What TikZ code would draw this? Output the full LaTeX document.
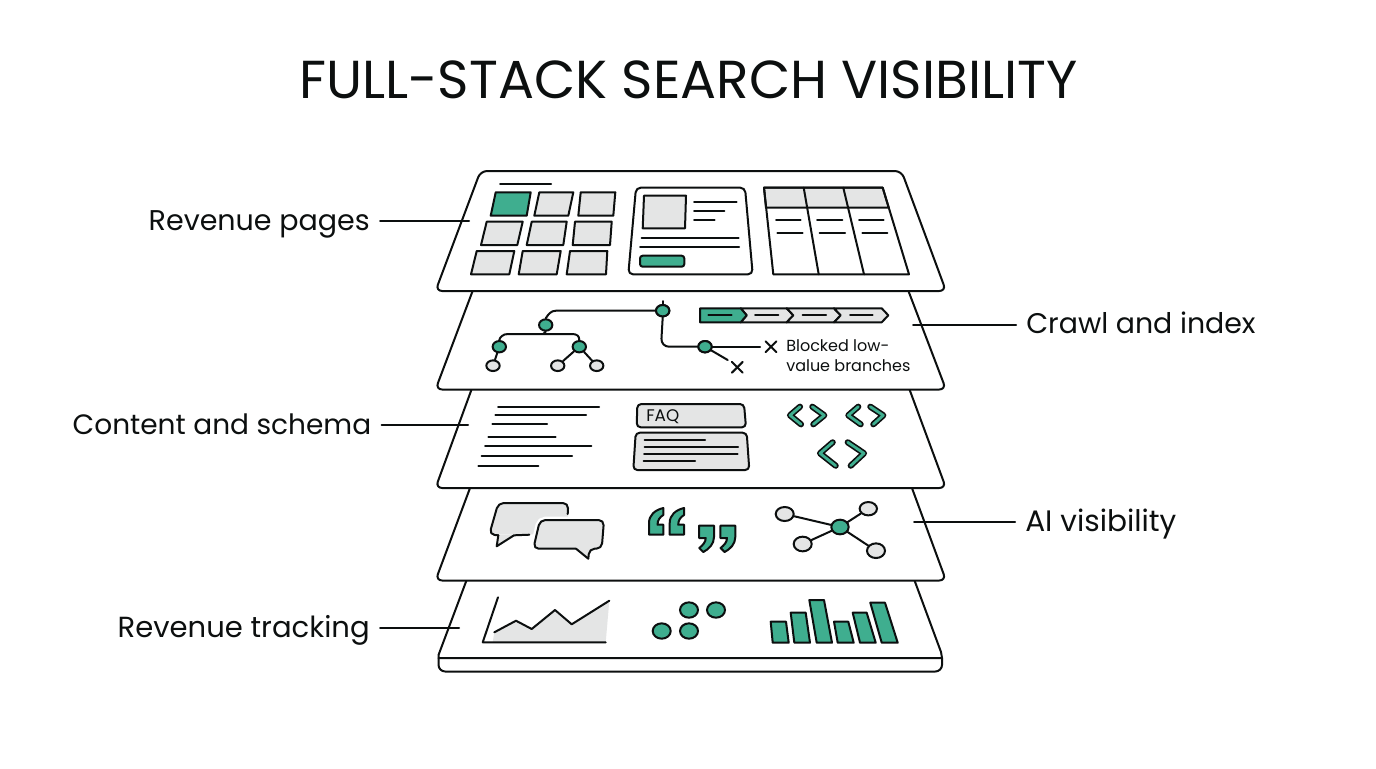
\documentclass[tikz,border=0pt]{standalone}
\usepackage{fontspec}
\setmainfont{Poppins}
\usetikzlibrary{shapes.geometric}
\definecolor{ink}{HTML}{0C0F0F}
\definecolor{teal}{HTML}{3FAE8F}
\definecolor{tile}{HTML}{E4E5E5}
\tikzset{
  ln/.style={draw=ink,line width=1.5pt,line join=round,line cap=round},
  slab/.style={ln,fill=white,rounded corners=5pt},
  gr/.style={ln,fill=tile},
  gn/.style={ln,fill=teal},
  grn/.style={ellipse,draw=ink,line width=1.5pt,fill=teal,inner sep=0pt,minimum width=10pt,minimum height=8.5pt},
  gry/.style={ellipse,draw=ink,line width=1.5pt,fill=tile,inner sep=0pt,minimum width=10pt,minimum height=8pt},
  lbl/.style={text=ink,inner sep=0pt},
  small/.style={font=\fontsize{12}{15}\selectfont,text=ink,inner sep=0pt},
  chevo/.style={draw=ink,line width=4.6pt,line join=round,line cap=round},
  chevi/.style={draw=teal,line width=2.1pt,line join=round,line cap=round},
}
\newcommand{\chevmark}[1]{\draw[chevo] #1; \draw[chevi] #1;}
\begin{document}
\begin{tikzpicture}[x=0.75pt,y=-0.75pt]
\useasboundingbox (0,0) rectangle (1376,768);
\node[inner sep=0pt,anchor=base,text=ink,font=\fontsize{40.1}{48}\selectfont] (title) at (688.5,98) {FULL-STACK SEARCH VISIBILITY};

% ---- slab 5 (base)
\draw[ln,fill=white,rounded corners=5pt] (438.5,658) -- (438.5,671.5) -- (942,671.5) -- (942,658);
\draw[ln,fill=white] (468.5,575) -- (438.5,655) -- (438.5,658) -- (942,658) -- (941,652) -- (912.5,575);
% ---- slab 4
\draw[slab] (473,480) -- (435.5,580.5) -- (946,580.5) -- (909,480);
% ---- slab 3
\draw[slab] (475,380) -- (435.5,488) -- (946,488) -- (906,380);
% ---- slab 2
\draw[slab] (476,282) -- (435.5,389.5) -- (946,389.5) -- (905,282);
% ---- slab 1
\draw[slab] (480.5,171) -- (901.5,171) -- (946,291) -- (435.5,291) -- cycle;

% ---- slab 1 content
\draw[ln] (500,184) -- (551,184);
\draw[gn] (495.7,192.3) -- (530.7,192.3) -- (526.7,215.7) -- (490.7,215.7) -- cycle;
\draw[gr] (539.3,192.3) -- (573.3,192.3) -- (568.3,215.7) -- (534.3,215.7) -- cycle;
\draw[gr] (580.7,192.3) -- (615.3,192.3) -- (613.3,215.7) -- (578.3,215.7) -- cycle;
\draw[gr] (486.7,221.7) -- (522.7,221.7) -- (517.3,245) -- (481,245) -- cycle;
\draw[gr] (531.7,221.7) -- (566.7,221.7) -- (563.3,245) -- (526.7,245) -- cycle;
\draw[gr] (575,221.7) -- (611.7,221.7) -- (610,245) -- (572.7,245) -- cycle;
\draw[gr] (476.7,251) -- (514.3,251) -- (509.3,274.3) -- (471,274.3) -- cycle;
\draw[gr] (522.7,251) -- (560.7,251) -- (556.7,274.3) -- (518.7,274.3) -- cycle;
\draw[gr] (570,251) -- (607.3,251) -- (606,274.3) -- (566.7,274.3) -- cycle;
\draw[ln,rounded corners=3.5pt] (636,187.7) -- (745,187.7) -- (752.7,274.3) -- (628.3,274.3) -- cycle;
\draw[gr] (644,195.7) -- (686,195.7) -- (685,228.3) -- (642.7,228.3) -- cycle;
\draw[ln] (641.7,237.7) -- (738.7,237.7);
\draw[ln] (640,246.7) -- (739,246.7);
\draw[gn,rounded corners=2pt] (640,255.7) rectangle (684.3,266.7);
\draw[ln] (694,202.3) -- (736.7,202.3);
\draw[ln] (694,211) -- (724.3,211);
\draw[ln] (694,219.7) -- (714.7,219.7);
\draw[gr] (764,187.7) -- (882.7,187.7) -- (888.7,207.7) -- (766,207.7) -- cycle;
\draw[ln] (764,187.7) -- (882.7,187.7) -- (909,274.3) -- (773.3,274.3) -- cycle;
\draw[ln] (803.7,187.7) -- (818.7,274.3);
\draw[ln] (843.3,187.7) -- (864,274.3);
\draw[ln] (776,220) -- (800.7,220);
\draw[ln] (817,220) -- (842.3,220);
\draw[ln] (859,220) -- (883.7,220);
\draw[ln] (777.3,232.7) -- (802.7,232.7);
\draw[ln] (819.7,232.7) -- (845,232.7);
\draw[ln] (862.3,232.7) -- (887.3,232.7);

% ---- slab 2 content: tree
\node[grn] (n1) at (662.7,310.7) {};
\node[grn] (n2) at (545.7,325) {};
\node[grn] (n3) at (499.3,346.7) {};
\node[grn] (n4) at (579.3,346.7) {};
\node[grn] (n5) at (705,346.7) {};
\node[gry] (l1) at (493,365.7) {};
\node[gry] (l2) at (557.7,365.7) {};
\node[gry] (l3) at (596.7,365.7) {};
\coordinate (stub) at (662.7,301);
\coordinate (j) at (543.3,334);
\coordinate (x1) at (771,346.7);
\coordinate (x2) at (737.3,367.3);
\draw[ln] (n1) -- (stub);
\draw[ln] (n1.west) -- (556,310.7) .. controls (551,310.7) and (548.5,314) .. (n2.north);
\draw[ln] (n2.south) -- (j);
\draw[ln] (j) -- (508,334) .. controls (503,334) and (500,337) .. (n3.north);
\draw[ln] (j) -- (572,334) .. controls (577,334) and (579.3,336) .. (n4.north);
\draw[ln] (n3) -- (l1);
\draw[ln] (n4) -- (l2);
\draw[ln] (n4) -- (l3);
\draw[ln,rounded corners=6pt] (n1.south) -- (661,346.7) -- (n5.west);
\draw[ln] (n5.east) -- (760,346.7);
\draw[ln] (n5) -- (727.7,360);
\foreach \c in {x1,x2}{
  \draw[ln] ([shift={(-4.1pt,-4.1pt)}]\c) -- ([shift={(4.1pt,4.1pt)}]\c);
  \draw[ln] ([shift={(-4.1pt,4.1pt)}]\c) -- ([shift={(4.1pt,-4.1pt)}]\c);
}
\node[grn] at (n1) {};
\node[grn] at (n5) {};
\node[small,anchor=base west] (blk1) at (786,351.5) {Blocked low-};
\node[small,anchor=base west] (blk2) at (786,371) {value branches};
% chevron bar
\draw[gr] (740.7,308.3) -- (786.7,308.3) -- (793.3,315.3) -- (786.7,322.3) -- (740.7,322.3) -- (746.7,315.3) -- cycle;
\draw[gr] (786.7,308.3) -- (834,308.3) -- (840.7,315.3) -- (834,322.3) -- (786.7,322.3) -- (793.3,315.3) -- cycle;
\draw[gr] (834,308.3) -- (881.7,308.3) -- (888.3,315.3) -- (881.7,322.3) -- (834,322.3) -- (840.7,315.3) -- cycle;
\draw[gn] (700,308.3) -- (740.7,308.3) -- (746.7,315.3) -- (740.7,322.3) -- (700,322.3) -- cycle;
\draw[ln] (708.3,315.3) -- (731.7,315.3);
\draw[ln] (755,315.3) -- (778.3,315.3);
\draw[ln] (802.7,315.3) -- (826,315.3);
\draw[ln] (850,315.3) -- (872.7,315.3);

% ---- slab 3 content
\draw[ln] (498,406.7) -- (599,406.7);
\draw[ln] (495.3,415.3) -- (586,415.3);
\draw[ln] (492.3,424) -- (547,424);
\draw[ln] (488.3,436.7) -- (555.7,436.7);
\draw[ln] (485,446) -- (591.3,446);
\draw[ln] (481.7,455.7) -- (572,455.7);
\draw[ln] (478.3,465.7) -- (538.3,465.7);
\draw[gr,rounded corners=3pt] (637.3,404) -- (744,404) -- (746,427.3) -- (636.7,427.3) -- cycle;
\node[small,anchor=base west,font=\fontsize{12.6}{15}\selectfont] (faq) at (646,421) {FAQ};
\draw[gr,rounded corners=3pt] (635.7,432.7) -- (746.7,432.7) -- (749.3,470) -- (633.3,470) -- cycle;
\draw[ln] (644.7,440) -- (705,440);
\draw[ln] (644.5,446.7) -- (738,446.7);
\draw[ln] (644,453.7) -- (737.7,453.7);
\draw[ln] (643.5,460.7) -- (695,460.7);
\chevmark{(800,406.7) -- (790,415.3) -- (801,424.3)}
\chevmark{(812.3,406.7) -- (824.3,415.3) -- (813.3,424.3)}
\chevmark{(858.3,406.7) -- (848.3,415.3) -- (860.7,424.3)}
\chevmark{(870.3,406.7) -- (883.3,415.3) -- (873.3,424.3)}
\chevmark{(832.7,442.3) -- (820,453.3) -- (835.7,465.7)}
\chevmark{(847.7,442.3) -- (864,453.3) -- (850.7,465.7)}

% ---- slab 4 content
\fill[tile,rounded corners=4pt] (498.3,503) -- (568.3,503) -- (567.7,530) -- (529.3,534.7) -- (489.3,534.7) -- cycle;
\fill[tile] (498.3,535) -- (496.7,546.3) -- (514,535) -- cycle;
\draw[ln,rounded corners=4pt] (567.7,514) -- (568.3,503) -- (498.3,503) -- (489.3,534.5) -- (498.3,535.3);
\draw[ln] (498.3,535.3) -- (496.7,546.3) -- (514,535.3) -- (529.3,534.7);
\path[draw=white,line width=5pt,rounded corners=4pt] (540,520) -- (603.3,520) -- (601.7,548.7) -- (533.3,548.7) -- cycle;
\draw[gr,rounded corners=4pt] (540,520) -- (604,520) -- (601.7,548.7) -- (589.3,548.7) [sharp corners] -- (588.3,558.7) -- (576,548.7) [rounded corners=4pt] -- (533.3,548.7) -- cycle;
\foreach \d in {0,20.7}{
  \begin{scope}[shift={(\d,0)}]
  \draw[gn] (649,534.7) -- (663.3,534.7) -- (663.3,524.7) -- (657.5,524.7) .. controls (657.5,520) and (660,517) .. (663.3,515) -- (663.3,508) .. controls (655,510) and (649,515) .. (649,523) -- cycle;
  \end{scope}
}
\foreach \d in {0,21.3}{
  \begin{scope}[shift={(\d,0)}]
  \draw[gn] (699,525.7) -- (714,525.7) -- (714,537) .. controls (714,544) and (709,549) .. (703.3,552) -- (699.3,548) .. controls (703,545) and (705.7,542) .. (705.7,538) -- (699,538) -- cycle;
  \end{scope}
}
\node[grn,minimum width=13pt,minimum height=11pt] (hub) at (840,527) {};
\node[gry,minimum width=13.5pt,minimum height=10.5pt] (s1) at (784.7,514) {};
\node[gry,minimum width=13pt,minimum height=10pt] (s2) at (868.3,508.7) {};
\node[gry,minimum width=13.5pt,minimum height=11pt] (s3) at (802.7,544) {};
\node[gry,minimum width=13.5pt,minimum height=11pt] (s4) at (876,550.7) {};
\draw[ln] (hub) -- (s1);
\draw[ln] (hub) -- (s2);
\draw[ln] (hub) -- (s3);
\draw[ln] (hub) -- (s4);

% ---- slab 5 content
\fill[tile] (494.3,632.3) -- (516,620.7) -- (531.7,629) -- (555,610) -- (571.7,624.3) -- (609.3,600.7) -- (605.7,642.3) -- (492.7,642.3) -- cycle;
\draw[ln] (498,597.3) -- (482.7,642.3) -- (605.7,642.3);
\draw[ln] (494.3,632.3) -- (516,620.7) -- (531.7,629) -- (555,610) -- (571.7,624.3) -- (609.3,600.7);
\node[grn,minimum width=13.5pt,minimum height=11.5pt] (d1) at (661.7,631) {};
\node[grn,minimum width=13.5pt,minimum height=11.5pt] (d2) at (689,631) {};
\node[grn,minimum width=13.5pt,minimum height=11.5pt] (d3) at (689,610) {};
\node[grn,minimum width=13.5pt,minimum height=11.5pt] (d4) at (716,610) {};
\draw[gn] (770.7,621.7) -- (786,621.7) -- (788.7,642.7) -- (772.7,642.7) -- cycle;
\draw[gn] (790.7,612.7) -- (805.7,612.7) -- (810,642.7) -- (794.3,642.7) -- cycle;
\draw[gn] (809.3,600) -- (824,600) -- (832,642.7) -- (816.7,642.7) -- cycle;
\draw[gn] (834,621.7) -- (848.3,621.7) -- (853.7,642.7) -- (837.7,642.7) -- cycle;
\draw[gn] (852.7,612.7) -- (866.7,612.7) -- (875.7,642.7) -- (860,642.7) -- cycle;
\draw[gn] (870.3,602.7) -- (885,602.7) -- (897.7,642.7) -- (881.7,642.7) -- cycle;

% ---- labels and leaders
\node[lbl,anchor=base east,font=\fontsize{21.4}{25}\selectfont] (a) at (370,230) {Revenue pages};
\node[lbl,anchor=base west,font=\fontsize{21.3}{25}\selectfont] (b) at (1026,333) {Crawl and index};
\node[lbl,anchor=base east,font=\fontsize{21}{25}\selectfont] (c) at (371.5,434) {Content and schema};
\node[lbl,anchor=base west,font=\fontsize{22.2}{25}\selectfont] (d) at (1025,531) {AI visibility};
\node[lbl,anchor=base east,font=\fontsize{21.8}{25}\selectfont] (e) at (370,637) {Revenue tracking};
\coordinate (ea) at (469,221);
\coordinate (eb) at (913,325);
\coordinate (ec) at (468,425);
\coordinate (ed) at (914,522);
\coordinate (ee) at (459,628);
\draw[ln] ([xshift=7.5pt]a.east |- ea) -- (ea);
\draw[ln] ([xshift=-7.5pt]b.west |- eb) -- (eb);
\draw[ln] ([xshift=7.5pt]c.east |- ec) -- (ec);
\draw[ln] ([xshift=-7.5pt]d.west |- ed) -- (ed);
\draw[ln] ([xshift=7.5pt]e.east |- ee) -- (ee);
\end{tikzpicture}
\end{document}
